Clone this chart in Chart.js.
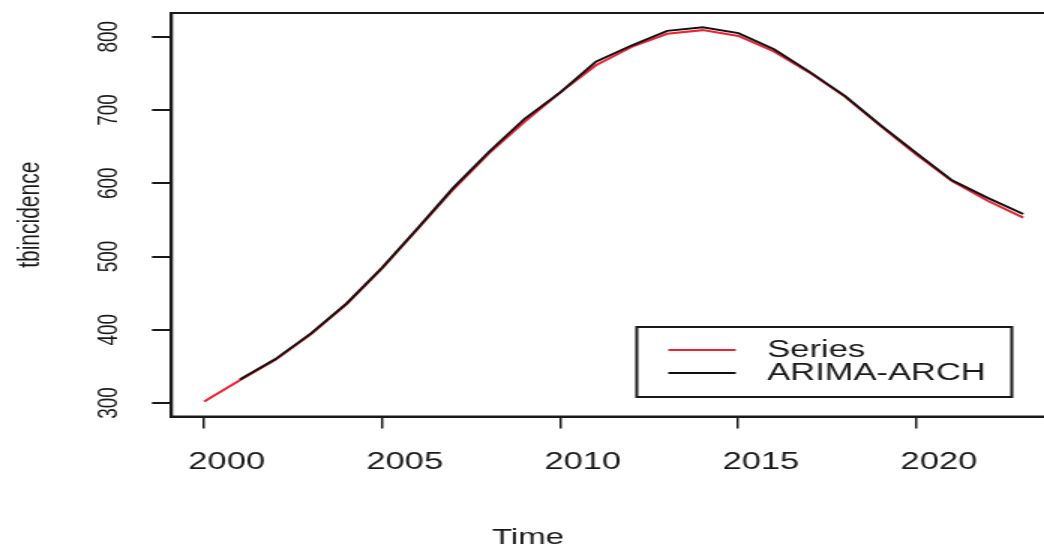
<!DOCTYPE html>
<html>
<head>
<meta charset="utf-8">
<title>tbincidence</title>
<script src="https://cdn.jsdelivr.net/npm/chart.js@4"></script>
<style>
  html, body { margin: 0; padding: 0; background: #fff; overflow: hidden; }
  #wrap { width: 1044px; height: 546px; overflow: hidden; }
</style>
</head>
<body>
<div id="wrap">
  <!-- drawn at 720 wide, shown 1.5x wider like the stretched reference -->
  <canvas id="tbChart" width="720" height="546" style="width:1080px;height:546px"></canvas>
</div>
<script>
const years = [2000, 2001, 2002, 2003, 2004, 2005, 2006, 2007, 2008, 2009, 2010, 2011,
               2012, 2013, 2014, 2015, 2016, 2017, 2018, 2019, 2020, 2021, 2022, 2023];
const seriesValues = [302, 331, 359, 394, 435, 484, 538, 592, 641, 684, 724, 761,
                      786, 804, 809, 801, 780, 751, 718, 678, 639, 603, 576, 553];

const arimaYears = [2001, 2002, 2003, 2004, 2005, 2006, 2007, 2008, 2009, 2010, 2011,
                    2012, 2013, 2014, 2015, 2016, 2017, 2018, 2019, 2020, 2021, 2022, 2023];
const arimaValues = [332, 360, 395, 436, 485, 539, 594, 643, 688, 724, 766,
                     788, 808, 813, 805, 783, 752, 719, 679, 641, 604, 580, 558];

const xTicks = [2000, 2005, 2010, 2015, 2020];
const yTicks = [300, 400, 500, 600, 700, 800];

const FONT = "'Liberation Sans', Arial, sans-serif";
const INK = '#1a1a1a';

// box around the plot region, like R's box()
const frame = {
    id: 'frame',
    afterDatasetsDraw(chart) {
        const a = chart.chartArea;
        const ctx = chart.ctx;
        ctx.save();
        ctx.strokeStyle = INK;
        ctx.lineWidth = 2;
        ctx.strokeRect(a.left, a.top, a.right - a.left, a.bottom - a.top);
        ctx.restore();
    }
};

// legend box in the lower right, drawn from the datasets
const boxLegend = {
    id: 'boxLegend',
    afterDraw(chart) {
        const ctx = chart.ctx;
        const left = 424.5, top = 327, w = 250, h = 70;
        ctx.save();
        ctx.fillStyle = '#fff';
        ctx.fillRect(left, top, w, h);
        ctx.strokeStyle = INK;
        ctx.lineWidth = 2;
        ctx.strokeRect(left, top, w, h);
        ctx.font = '23px ' + FONT;
        ctx.textBaseline = 'middle';
        ctx.textAlign = 'left';
        const rows = [chart.data.datasets[1], chart.data.datasets[0]];
        rows.forEach((ds, i) => {
            const y = top + 23 + i * 23;
            ctx.strokeStyle = ds.borderColor;
            ctx.lineWidth = 1.8;
            ctx.beginPath();
            ctx.moveTo(left + 21, y);
            ctx.lineTo(left + 66, y);
            ctx.stroke();
            ctx.fillStyle = INK;
            ctx.fillText(ds.label, left + 87, y + 1);
        });
        ctx.restore();
    }
};

const ctx = document.getElementById('tbChart').getContext('2d');
new Chart(ctx, {
    type: 'line',
    data: {
        datasets: [
            {
                label: 'ARIMA-ARCH',
                data: arimaYears.map((yr, i) => ({ x: yr, y: arimaValues[i] })),
                borderColor: '#111111',
                borderWidth: 2,
                pointRadius: 0,
                tension: 0,
                fill: false
            },
            {
                label: 'Series',
                data: years.map((yr, i) => ({ x: yr, y: seriesValues[i] })),
                borderColor: '#ee2233',
                borderWidth: 2,
                pointRadius: 0,
                tension: 0,
                fill: false
            }
        ]
    },
    options: {
        responsive: false,
        animation: false,
        events: [],
        layout: { autoPadding: false, padding: { left: 0, top: 13, right: 16, bottom: -3 } },
        plugins: {
            legend: { display: false },
            tooltip: { enabled: false },
            title: {
                display: true,
                text: 'Time',
                position: 'bottom',
                color: INK,
                padding: 0,
                font: { family: FONT, size: 22, weight: 'normal', lineHeight: 1 }
            }
        },
        scales: {
            x: {
                type: 'linear',
                min: 1999.08,
                max: 2023.92,
                afterBuildTicks: s => { s.ticks = xTicks.map(v => ({ value: v })); },
                afterFit: s => {
                    s.height = 110.5;
                    s.paddingLeft = 0;
                    s.paddingRight = 0;
                },
                grid: { drawOnChartArea: false, drawTicks: true, tickLength: 12, color: INK, lineWidth: 1.5 },
                border: { display: true, color: INK, width: 2 },
                ticks: {
                    autoSkip: false,
                    maxRotation: 0,
                    padding: 20,
                    labelOffset: 15,
                    color: INK,
                    font: { family: FONT, size: 23 },
                    callback: v => String(v)
                }
            },
            y: {
                type: 'linear',
                min: 281.6,
                max: 832.4,
                afterBuildTicks: s => { s.ticks = yTicks.map(v => ({ value: v })); },
                afterFit: s => {
                    s.width = 114.3;
                    s.paddingTop = 0;
                    s.paddingBottom = 0;
                },
                grid: { drawOnChartArea: false, drawTicks: true, tickLength: 13, color: INK, lineWidth: 2 },
                border: { display: true, color: INK, width: 2 },
                title: {
                    display: true,
                    text: 'tbincidence',
                    color: INK,
                    padding: { top: 8, bottom: 0 },
                    font: { family: FONT, size: 21 }
                },
                ticks: {
                    autoSkip: false,
                    minRotation: 90,
                    maxRotation: 90,
                    crossAlign: 'center',
                    padding: 13,
                    color: INK,
                    font: { family: FONT, size: 19 },
                    callback: v => String(v)
                }
            }
        }
    },
    plugins: [frame, boxLegend]
});
</script>
</body>
</html>
